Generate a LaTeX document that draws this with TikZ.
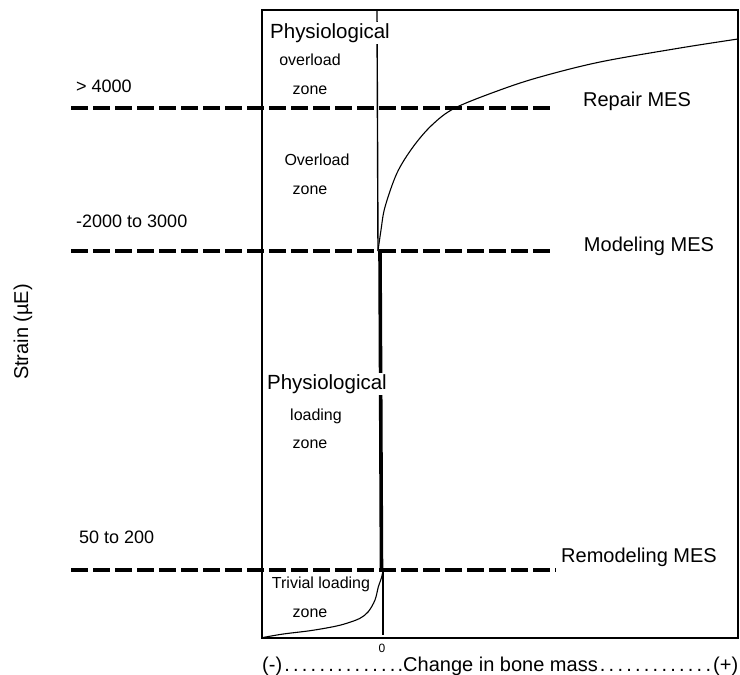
\documentclass[tikz,border=0pt]{standalone}
\usepackage{fontspec}
\setmainfont{Liberation Sans}
\begin{document}
\begin{tikzpicture}[x=1pt,y=-1pt,
  lbl/.style={inner sep=0pt,font=\fontsize{20}{24}\selectfont},
  num/.style={inner sep=0pt,anchor=west,font=\fontsize{18}{22}\selectfont},
  small/.style={inner sep=0pt,font=\fontsize{16}{19}\selectfont},
  phys/.style={inner sep=1pt,fill=white,font=\fontsize{20.5}{24}\selectfont},
  mes/.style={line width=3.3pt,dash pattern=on 17pt off 5pt},
  frame/.style={line width=1.4pt},
  curve/.style={line width=1.1pt}]
\useasboundingbox (0,0) rectangle (740,675);
% frame
\draw[frame] (262,10) rectangle (738,638);
% named coordinates
\coordinate (vtop) at (377,10);
\coordinate (vmod) at (378,251);
\coordinate (tmod) at (380,251);
\coordinate (trem) at (381.5,570);
\coordinate (vrem) at (383,570);
\coordinate (vbot) at (383,635);
% vertical zero line
\draw[frame] (vtop) -- (vmod);
\draw[line width=3.6pt] (tmod) -- (trem);
\draw[frame] (vrem) -- (vbot);
% MES dashed lines
\coordinate (r1) at (71,108);  \coordinate (r2) at (553,108);
\coordinate (m1) at (71,251);  \coordinate (m2) at (553,251);
\coordinate (q1) at (71,570);  \coordinate (q2) at (556,570);
\draw[mes] (r1) -- (r2);
\draw[mes] (m1) -- (m2);
\draw[mes] (q1) -- (q2);
% curves
\draw[curve] plot[smooth,tension=0.55] coordinates {(378,251) (381,230) (385,207) (397,173) (413,147) (432,125) (455,108) (500,90) (540,77) (600,62) (680,48) (738,39)};
\draw[curve] plot[smooth,tension=0.55] coordinates {(383,570) (381.7,577) (378.3,587) (375,600) (368.3,611.7) (360,618.3) (346.7,623.3) (333.3,626.7) (310,630.7) (283.3,634) (263,637.5)};
% zone labels
\node[phys] (p1) at (330,33) {Physiological};
\node[small] (o1) at (310,60) {overload};
\node[small] (z1) at (310,90) {zone};
\node[small] (o2) at (317,160) {Overload};
\node[small] (z2) at (310,190) {zone};
\node[phys] (p2) at (327,384) {Physiological};
\node[small] (l2) at (316,416) {loading};
\node[small] (z3) at (310,444) {zone};
\node[small] (t1) at (321,584) {Trivial loading};
\node[small] (z4) at (310,613) {zone};
% left values
\node[num] (v1) at (76,86) {> 4000};
\node[num] (v2) at (76,221) {-2000 to 3000};
\node[num] (v3) at (79,537) {50 to 200};
% right labels
\node[lbl] (n1) at (637,101) {Repair MES};
\node[lbl] (n2) at (649,246) {Modeling MES};
\node[lbl] (n3) at (639,557) {Remodeling MES};
% axis labels
\node[lbl,rotate=90] (ya) at (23,332) {Strain (µE)};
\node[inner sep=0pt,font=\fontsize{12}{14}\selectfont] (zero) at (382,648) {0};
\node[lbl,anchor=west] (xa) at (262,666) {\makebox[476pt][s]{(-)\dotfill.Change in bone mass\dotfill(+)}};
\end{tikzpicture}
\end{document}
